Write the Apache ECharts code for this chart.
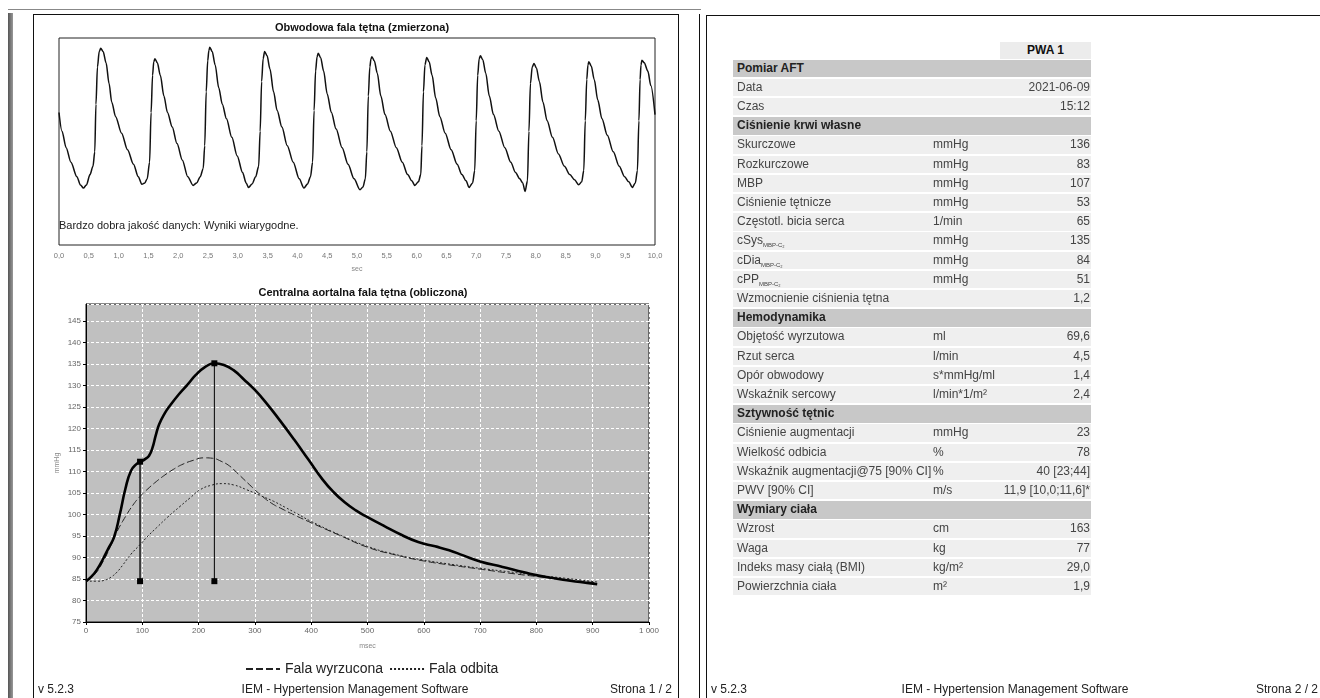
<!DOCTYPE html>
<html>
<head>
<meta charset="utf-8">
<script src="https://cdn.jsdelivr.net/npm/echarts@6/dist/echarts.min.js"></script>
<style>
  body { margin: 0; width: 1320px; height: 698px; overflow: hidden; background: #fff; position: relative;
         font-family: 'Liberation Sans', Arial, sans-serif; color: #222; }
  .abs { position: absolute; }
  .row { position: absolute; left: 733px; width: 358px; height: 17.5px; font-size: 12px; line-height: 17.5px; color: #444; }
  .row.sec { background: #c8c8c8; font-weight: bold; color: #222; }
  .row.dat { background: #efefef; }
  .row span { position: absolute; top: 0; white-space: nowrap; }
  .row sub { font-size: 6px; vertical-align: -3px; }
  .foot { position: absolute; top: 682px; font-size: 12px; color: #222; white-space: nowrap; }
</style>
</head>
<body>
<!-- ramki stron -->
<div class="abs" style="left:8px;top:9px;width:693px;height:1px;background:#888"></div>
<div class="abs" style="left:8px;top:13px;width:5px;height:690px;background:linear-gradient(to right,#555,#999)"></div>
<div class="abs" style="left:33px;top:14px;width:644px;height:700px;border:1px solid #111;border-bottom:none"></div>
<div class="abs" style="left:699px;top:14px;width:1px;height:700px;background:#111"></div>
<div class="abs" style="left:706px;top:15px;width:620px;height:700px;border-left:1px solid #111;border-top:1px solid #111"></div>

<div id="chart" class="abs" style="left:0;top:0;width:1320px;height:698px"></div>
<div id="table"></div>

<script>
// fala obwodowa: czas [s] i amplituda (jednostki względne)
const periTime = [0, 0.05, 0.12, 0.20, 0.30, 0.36,
  0.41, 0.46, 0.52, 0.57, 0.60, 0.62, 0.645, 0.675, 0.70, 0.74, 0.79, 0.84, 0.885, 0.95, 1.05, 1.15, 1.25, 1.33,
  1.39, 1.44, 1.48, 1.52, 1.545, 1.57, 1.59, 1.61, 1.65, 1.70, 1.76, 1.82, 1.90, 1.98, 2.07, 2.16,
  2.25, 2.31, 2.37, 2.42, 2.445, 2.47, 2.495, 2.515, 2.53, 2.57, 2.62, 2.68, 2.74, 2.81, 2.90, 2.99, 3.08, 3.14,
  3.18, 3.24, 3.30, 3.35, 3.375, 3.40, 3.425, 3.45, 3.49, 3.54, 3.60, 3.66, 3.74, 3.83, 3.93, 4.03,
  4.11, 4.17, 4.22, 4.255, 4.28, 4.305, 4.33, 4.35, 4.39, 4.44, 4.50, 4.57, 4.65, 4.75, 4.85, 4.95,
  5.05, 5.10, 5.14, 5.165, 5.19, 5.215, 5.235, 5.25, 5.29, 5.34, 5.40, 5.47, 5.56, 5.66, 5.76, 5.85, 5.92,
  5.97, 6.03, 6.07, 6.09, 6.115, 6.14, 6.17, 6.21, 6.26, 6.32, 6.39, 6.48, 6.58, 6.68, 6.76, 6.83,
  6.88, 6.94, 6.975, 7.00, 7.025, 7.05, 7.07, 7.11, 7.16, 7.22, 7.29, 7.38, 7.48, 7.58, 7.66, 7.73, 7.78,
  7.82, 7.86, 7.885, 7.91, 7.94, 7.97, 8.01, 8.06, 8.12, 8.19, 8.28, 8.38, 8.48, 8.57, 8.65,
  8.72, 8.77, 8.805, 8.83, 8.855, 8.875, 8.89, 8.93, 8.98, 9.04, 9.11, 9.20, 9.30, 9.40, 9.49, 9.56,
  9.62, 9.67, 9.705, 9.73, 9.75, 9.765, 9.78, 9.82, 9.88, 9.93, 10.0];
const periValue = [64, 55, 47, 40, 33, 29,
  27.5, 29, 34, 38, 45, 68, 86, 93.5, 95, 93.5, 88, 78, 69, 62, 54, 46, 39, 33,
  29.4, 30, 32, 40, 64, 82, 88.5, 90, 88, 82, 72, 64, 57, 49, 41, 33,
  28.8, 30, 33, 37, 48, 74, 89, 94, 95.5, 93.5, 87, 76, 68, 61, 52, 43, 35, 30,
  27.8, 29.5, 33, 38, 55, 79, 90, 93.5, 91.5, 85, 74, 65, 57, 48, 40, 32,
  27.5, 29.5, 33, 40, 65, 84, 91, 92.6, 90.5, 84, 73, 64, 56, 47, 39, 32,
  26.7, 28, 32, 45, 72, 86, 90, 91, 89, 83, 72, 63, 55, 47, 40, 34, 31,
  28.8, 30.5, 34, 48, 74, 87, 90.6, 88.5, 82, 71, 62, 54, 46, 39, 34, 31,
  27.8, 30, 36, 60, 82, 90, 91.4, 89.5, 83, 72, 63, 55, 47, 40, 35, 32, 30,
  25.9, 31, 55, 78, 86, 87.7, 85.5, 79, 69, 60, 52, 44, 38, 34, 31.5,
  29.1, 30.5, 36, 60, 80, 87, 88.5, 86.5, 80, 70, 61, 53, 45, 38, 33, 30.5,
  27.8, 30, 36, 60, 80, 87, 89.3, 88, 84, 77, 63];

// centralna fala aortalna: czas [ms] i ciśnienie [mmHg]
const aortaTime = [0, 10, 20, 30, 40, 50, 60, 70, 80, 90, 97, 105, 112, 118, 124, 130, 140, 150, 165, 180, 195, 210, 228, 245, 262, 280,
  300, 320, 345, 370, 395, 420, 440, 460, 480, 500, 530, 560, 590, 620, 645, 670, 700, 740, 780, 820, 860, 890, 908];
const aortaValue = [84.5, 85.6, 87.3, 89.6, 92.2, 94.8, 100, 106, 110.2, 111.8, 112.3, 112.9, 113.7, 115.5, 118.5, 121, 123.6, 125.5, 128, 130.2,
  132.5, 134.2, 135.2, 134.8, 133.6, 131.5, 129, 126, 121.8, 117.4, 112.8, 108.2, 105.2, 102.8, 100.9, 99.4, 97.3, 95.3, 93.6, 92.6, 91.7,
  90.5, 89.1, 87.8, 86.5, 85.4, 84.6, 84.1, 83.8];

const ejectedTime = [0, 15, 30, 45, 55, 70, 85, 96, 110, 125, 140, 155, 170, 190, 210, 225, 240, 255, 270, 290, 310, 330, 350, 370, 400,
  450, 500, 550, 600, 650, 700, 750, 800, 850, 908];
const ejectedValue = [84.5, 86, 89, 93, 96, 99.5, 102.5, 104.2, 106, 107.7, 109.2, 110.5, 111.6, 112.6, 113.2, 113.1, 112.4, 111.3, 109.5,
  107, 104.6, 102.6, 101.2, 99.9, 98.1, 95.2, 92.4, 90.6, 89.2, 88.2, 87.3, 86.4, 85.6, 84.9, 84.1];

const reflectedTime = [0, 20, 35, 45, 55, 65, 80, 96, 110, 125, 145, 167, 185, 203, 222, 242, 262, 285, 310, 333, 355, 375, 400,
  450, 500, 550, 600, 650, 700, 750, 800, 850, 908];
const reflectedValue = [84.5, 84.5, 84.8, 85.5, 86.6, 88.2, 90.8, 93, 95, 96.9, 99.4, 101.9, 103.9, 105.8, 106.8, 107.2, 106.9, 105.8,
  104.4, 103.1, 101.6, 100.2, 98.4, 95.3, 92.6, 90.7, 89.4, 88.4, 87.5, 86.7, 85.9, 85.2, 84.3];

// pionowe znaczniki (czas, dół, góra)
const markerTime = [96, 228];
const markerLow = [84.5, 84.5];
const markerHigh = [112.3, 135.2];

// tabela wyników
const rowKind = ['s', 'd', 'd', 's', 'd', 'd', 'd', 'd', 'd', 'd', 'd', 'd', 'd', 's', 'd', 'd', 'd', 'd', 's', 'd', 'd', 'd', 'd', 's', 'd', 'd', 'd', 'd'];
const rowLabel = ['Pomiar AFT', 'Data', 'Czas', 'Ciśnienie krwi własne', 'Skurczowe', 'Rozkurczowe', 'MBP', 'Ciśnienie tętnicze',
  'Częstotl. bicia serca', 'cSys', 'cDia', 'cPP', 'Wzmocnienie ciśnienia tętna', 'Hemodynamika', 'Objętość wyrzutowa', 'Rzut serca',
  'Opór obwodowy', 'Wskaźnik sercowy', 'Sztywność tętnic', 'Ciśnienie augmentacji', 'Wielkość odbicia', 'Wskaźnik augmentacji@75 [90% CI]',
  'PWV [90% CI]', 'Wymiary ciała', 'Wzrost', 'Waga', 'Indeks masy ciałą (BMI)', 'Powierzchnia ciała'];
const rowSub = ['', '', '', '', '', '', '', '', '', 'MBP-C₂', 'MBP-C₂', 'MBP-C₂', '', '', '', '', '', '', '', '', '', '', '', '', '', '', '', ''];
const rowUnit = ['', '', '', '', 'mmHg', 'mmHg', 'mmHg', 'mmHg', '1/min', 'mmHg', 'mmHg', 'mmHg', '', '', 'ml', 'l/min', 's*mmHg/ml',
  'l/min*1/m²', '', 'mmHg', '%', '%', 'm/s', '', 'cm', 'kg', 'kg/m²', 'm²'];
const rowValue = ['', '2021-06-09', '15:12', '', '136', '83', '107', '53', '65', '135', '84', '51', '1,2', '', '69,6', '4,5', '1,4', '2,4',
  '', '23', '78', '40 [23;44]', '11,9 [10,0;11,6]*', '', '163', '77', '29,0', '1,9'];

const footLeft = ['v 5.2.3', 'IEM - Hypertension Management Software', 'Strona 1 / 2'];
const footRight = ['v 5.2.3', 'IEM - Hypertension Management Software', 'Strona 2 / 2'];

// --- tabela i stopki (HTML) ---
const tableBox = document.getElementById('table');
let html = '<div class="abs" style="left:1000px;top:41.5px;width:91px;height:17px;background:#ececec;font-size:12px;font-weight:bold;line-height:17px;text-align:center;color:#111">PWA 1</div>';
rowLabel.forEach((lab, i) => {
  const top = 59.5 + i * 19.2;
  const cls = rowKind[i] === 's' ? 'sec' : 'dat';
  const sub = rowSub[i] ? '<sub>' + rowSub[i] + '</sub>' : '';
  html += `<div class="row ${cls}" style="top:${top}px">` +
    `<span style="left:4px">${lab}${sub}</span>` +
    `<span style="left:200px">${rowUnit[i]}</span>` +
    `<span style="right:1px">${rowValue[i]}</span></div>`;
});
html += `<div class="foot" style="left:38px">${footLeft[0]}</div>`;
html += `<div class="foot" style="left:355px;transform:translateX(-50%)">${footLeft[1]}</div>`;
html += `<div class="foot" style="right:${1320 - 672}px">${footLeft[2]}</div>`;
html += `<div class="foot" style="left:711px">${footRight[0]}</div>`;
html += `<div class="foot" style="left:1015px;transform:translateX(-50%)">${footRight[1]}</div>`;
html += `<div class="foot" style="right:2px">${footRight[2]}</div>`;
tableBox.innerHTML = html;

// --- wykresy ---
const zip = (xs, ys) => xs.map((x, i) => [x, ys[i]]);
const FONT = 'Liberation Sans';

const chart = echarts.init(document.getElementById('chart'));

const markerSeries = markerTime.map((t, i) => ({
  type: 'line',
  xAxisIndex: 1,
  yAxisIndex: 1,
  data: [[t, markerLow[i]], [t, markerHigh[i]]],
  symbol: 'rect',
  symbolSize: 6,
  itemStyle: { color: '#000' },
  lineStyle: { color: i === 0 ? '#222' : '#000', width: i === 0 ? 1.6 : 1 },
  z: 5
}));

const option = {
  animation: false,
  textStyle: { fontFamily: FONT },
  title: [
    { text: 'Obwodowa fala tętna (zmierzona)', left: 357, top: 17, textAlign: 'center',
      textStyle: { fontSize: 11, fontWeight: 'bold', color: '#111', fontFamily: FONT } },
    { text: 'Centralna aortalna fala tętna (obliczona)', left: 358, top: 282, textAlign: 'center',
      textStyle: { fontSize: 11, fontWeight: 'bold', color: '#111', fontFamily: FONT } }
  ],
  legend: {
    data: ['Fala wyrzucona', 'Fala odbita'],
    left: 240,
    top: 657,
    itemWidth: 34,
    itemHeight: 10,
    itemGap: 6,
    itemStyle: { opacity: 0 },
    textStyle: { fontSize: 14, color: '#222', fontFamily: FONT }
  },
  grid: [
    { left: 59, top: 38, width: 596, height: 207, show: true, borderColor: '#222', borderWidth: 1, backgroundColor: '#fff' },
    { left: 86, top: 304, width: 563, height: 318, show: true, borderColor: '#111', borderWidth: 1, backgroundColor: '#c0c0c0' }
  ],
  xAxis: [
    {
      gridIndex: 0, type: 'value', min: 0, max: 10, interval: 0.5,
      axisLine: { show: false }, axisTick: { show: false }, splitLine: { show: false },
      axisLabel: { fontSize: 7.5, color: '#777', margin: 7, formatter: v => v.toFixed(1).replace('.', ',') },
      name: 'sec', nameLocation: 'middle', nameGap: 21,
      nameTextStyle: { fontSize: 7, color: '#888' }
    },
    {
      gridIndex: 1, type: 'value', min: 0, max: 1000, interval: 100,
      axisLine: { lineStyle: { color: '#000', width: 1 } },
      axisTick: { length: 3, lineStyle: { color: '#000' } },
      splitLine: { show: true, lineStyle: { color: '#fff', type: [3, 2], width: 1 } },
      axisLabel: { fontSize: 8, color: '#666', margin: 5, formatter: v => String(v).replace(/\B(?=(\d{3})+$)/g, ' ') },
      name: 'msec', nameLocation: 'middle', nameGap: 21,
      nameTextStyle: { fontSize: 7, color: '#888' }
    }
  ],
  yAxis: [
    { gridIndex: 0, type: 'value', min: 0, max: 100, show: false },
    {
      gridIndex: 1, type: 'value', min: 75, max: 149, interval: 5,
      axisLine: { show: true, lineStyle: { color: '#000', width: 1 } },
      axisTick: { show: true, length: 3, lineStyle: { color: '#000' } },
      splitLine: { show: true, lineStyle: { color: '#fff', type: [3, 2], width: 1 } },
      axisLabel: { fontSize: 8, color: '#666', margin: 5, showMaxLabel: false },
      name: 'mmHg', nameLocation: 'middle', nameGap: 25,
      nameTextStyle: { fontSize: 7, color: '#888' }
    }
  ],
  graphic: [
    { type: 'text', left: 59, top: 220,
      style: { text: 'Bardzo dobra jakość danych: Wyniki wiarygodne.', fontSize: 11, fill: '#222', fontFamily: FONT } }
  ],
  series: [
    {
      name: 'Obwodowa', type: 'line', xAxisIndex: 0, yAxisIndex: 0,
      data: zip(periTime, periValue), smooth: 0.3, smoothMonotone: 'x', symbol: 'none',
      lineStyle: { color: '#111', width: 1.5 }
    },
    {
      name: 'Fala wyrzucona', type: 'line', xAxisIndex: 1, yAxisIndex: 1,
      data: zip(ejectedTime, ejectedValue), smooth: true, symbol: 'none',
      itemStyle: { color: '#222' },
      lineStyle: { color: '#222', width: 1, type: [7, 3] }
    },
    {
      name: 'Fala odbita', type: 'line', xAxisIndex: 1, yAxisIndex: 1,
      data: zip(reflectedTime, reflectedValue), smooth: true, symbol: 'none',
      itemStyle: { color: '#222' },
      lineStyle: { color: '#222', width: 1, type: [2, 2] }
    },
    {
      name: 'Aorta', type: 'line', xAxisIndex: 1, yAxisIndex: 1,
      data: zip(aortaTime, aortaValue), smooth: true, symbol: 'none',
      lineStyle: { color: '#000', width: 2.6 }, z: 4
    },
    ...markerSeries
  ]
};

chart.setOption(option);
</script>
</body>
</html>
